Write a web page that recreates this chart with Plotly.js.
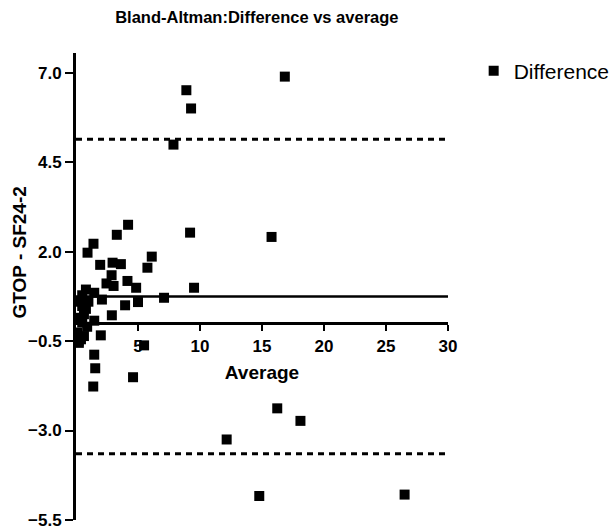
<!DOCTYPE html>
<html>
<head>
<meta charset="utf-8">
<script src="https://cdn.plot.ly/plotly-3.0.1.min.js"></script>
<style>html,body{margin:0;padding:0;background:#fff}#chart{width:613px;height:531px}</style>
</head>
<body>
<div id="chart"></div>
<script>
// Data
const average = [16.84, 8.9, 9.28, 7.86, 9.2, 15.77, 4.2, 3.29, 1.41, 0.93, 6.11, 1.95, 2.95, 3.62, 5.76, 2.87, 2.46, 3.03, 4.15, 4.85, 9.52, 0.8, 7.1, 1.47, 2.09, 3.96, 5.0, 2.89, 1.47, 2.0, 5.49, 1.47, 1.55, 4.6, 1.39, 12.15, 16.23, 18.1, 14.78, 26.5, 0.5, 0.5, 0.64, 0.5, 0.1, 0.64, 0.23, 0.3, 0.8, 0.3, 0.9, 0.4, 1.0, 0.2];
const difference = [6.89, 6.51, 6.0, 4.99, 2.53, 2.41, 2.75, 2.47, 2.22, 1.97, 1.86, 1.63, 1.69, 1.65, 1.55, 1.34, 1.11, 1.04, 1.18, 0.99, 0.99, 0.94, 0.71, 0.85, 0.66, 0.50, 0.59, 0.22, 0.07, -0.34, -0.62, -0.88, -1.26, -1.51, -1.77, -3.25, -2.38, -2.73, -4.83, -4.79, 0.78, 0.48, 0.25, 0.02, -0.26, -0.36, -0.55, 0.6, 0.4, 0.15, -0.1, -0.45, 0.6, -0.5];
const bias = 0.745;
const upperLimit = 5.14;
const lowerLimit = -3.65;
const xRange = [0, 30];
const yRange = [-5.5, 7.55];
const xTicks = [5, 10, 15, 20, 25, 30];
const yTicks = [-5.5, -3.0, -0.5, 2.0, 4.5, 7.0];

const font = 'Liberation Sans, Arial, sans-serif';
const lineTrace = (v, dash, w) => ({
  x: xRange, y: [v, v], mode: 'lines', showlegend: false, hoverinfo: 'skip',
  line: {color: '#000', width: w, dash: dash}
});

const traces = [
  lineTrace(bias, 'solid', 2.5),
  lineTrace(upperLimit, '6px,5px', 3),
  lineTrace(lowerLimit, '6px,5px', 3),
  {
    x: average, y: difference, mode: 'markers', name: 'Difference', type: 'scatter',
    marker: {symbol: 'square', size: 10, color: '#000', line: {width: 0}}
  }
];

const xPos = (0 - yRange[0]) / (yRange[1] - yRange[0]);

const layout = {
  width: 613, height: 531,
  margin: {l: 75.5, r: 165.3, t: 53, b: 11, autoexpand: false},
  paper_bgcolor: '#fff', plot_bgcolor: '#fff',
  showlegend: true,
  title: {text: 'Bland-Altman:Difference vs average', font: {family: font, size: 16.5, color: '#000', weight: 'bold'}, x: 0.419, xanchor: 'center', y: 0.968, yanchor: 'middle'},
  xaxis: {
    range: xRange, anchor: 'free', position: xPos, automargin: false,
    showline: true, linewidth: 3, linecolor: '#000', mirror: false,
    ticks: 'outside', ticklen: 6, tickwidth: 2, tickcolor: '#000',
    tickmode: 'array', tickvals: xTicks,
    tickfont: {family: font, size: 17, color: '#000', weight: 'bold'},
    showgrid: false, zeroline: false,
    title: {text: 'Average', font: {family: font, size: 19, color: '#000', weight: 'bold'}, standoff: 11}
  },
  yaxis: {
    range: yRange, automargin: false,
    showline: true, linewidth: 3, linecolor: '#000',
    ticks: 'outside', ticklen: 8, tickwidth: 2, tickcolor: '#000',
    tickmode: 'array', tickvals: yTicks, tickformat: '.1f',
    tickfont: {family: font, size: 17, color: '#000', weight: 'bold'},
    showgrid: false, zeroline: false
  },
  annotations: [{
    text: 'GTOP - SF24-2', xref: 'paper', yref: 'paper',
    x: (18 - 75.5) / 372.2, y: (520 - 253) / 467,
    xanchor: 'center', yanchor: 'middle', textangle: -90, showarrow: false,
    font: {family: font, size: 19, color: '#000', weight: 'bold'}
  }],
  legend: {
    x: 1.069, xanchor: 'left', y: 1.005, yanchor: 'top',
    font: {family: font, size: 21, color: '#000'},
    bgcolor: 'rgba(0,0,0,0)', borderwidth: 0
  }
};

Plotly.newPlot('chart', traces, layout, {displayModeBar: false, staticPlot: true});
</script>
</body>
</html>
